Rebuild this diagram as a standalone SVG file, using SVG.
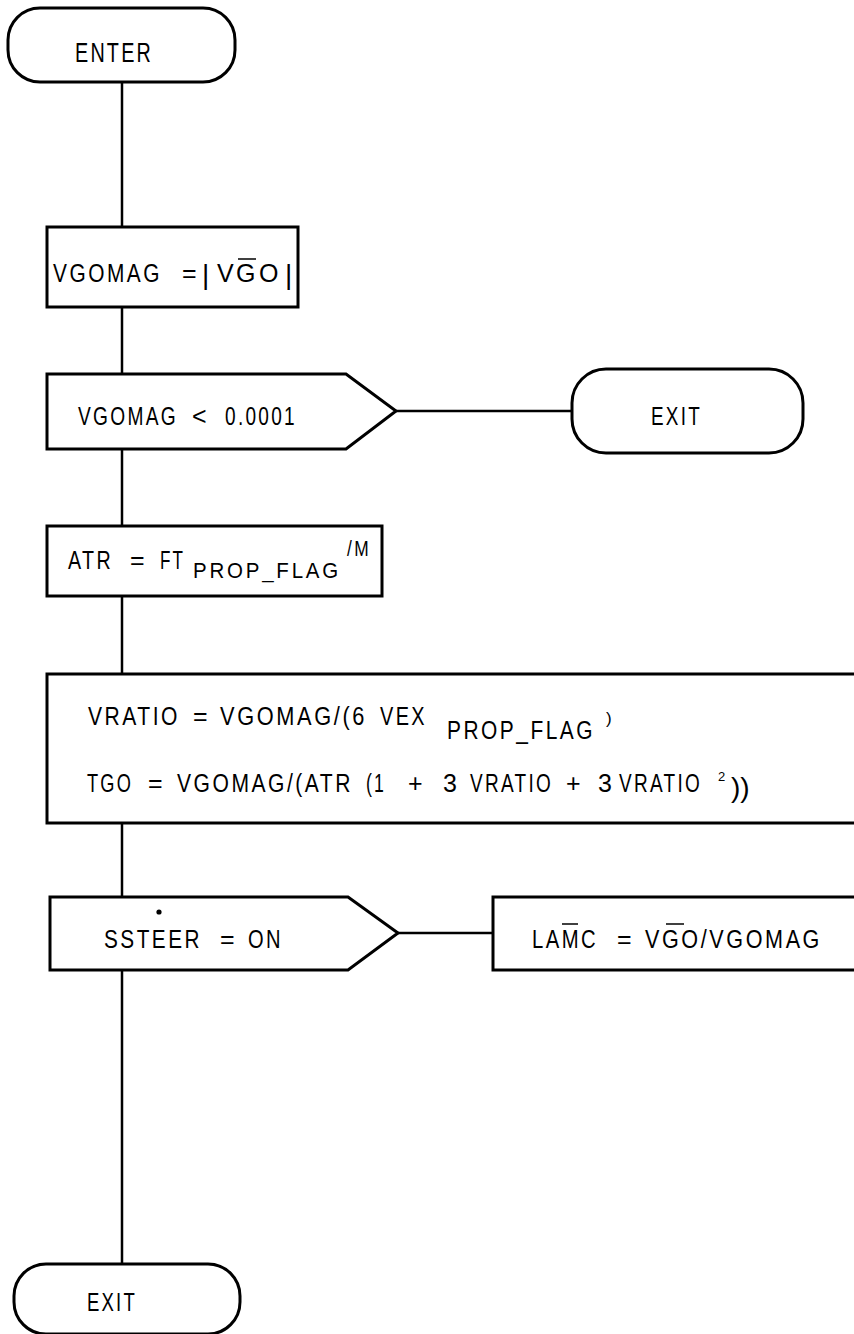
<svg xmlns="http://www.w3.org/2000/svg" width="854" height="1334" viewBox="0 0 854 1334">
<style>
.shape{fill:#fff;stroke:#000;stroke-width:3}
.conn line{stroke:#000;stroke-width:2.5}
text{font-family:"Liberation Sans",Arial,sans-serif;fill:#000;font-size:25px;letter-spacing:3px}
.lg{font-size:27px}
.sub{font-size:22px}
.sup{font-size:13px;letter-spacing:0}
.par{font-size:17px;letter-spacing:0}
.big{font-size:28px;letter-spacing:0}
.bar{stroke:#000;stroke-width:1.5}
</style>
<rect width="854" height="1334" fill="#fff"/>
<g id="connectors" class="conn">
  <line x1="122" y1="82" x2="122" y2="227"/>
  <line x1="122" y1="307" x2="122" y2="374"/>
  <line x1="122" y1="449" x2="122" y2="526"/>
  <line x1="122" y1="596" x2="122" y2="674"/>
  <line x1="122" y1="823" x2="122" y2="897"/>
  <line x1="122" y1="970" x2="122" y2="1264"/>
  <line x1="396" y1="411" x2="572" y2="411"/>
  <line x1="398" y1="933" x2="493" y2="933"/>
</g>
<g id="enter">
  <rect class="shape" x="8" y="8" width="227" height="74" rx="32" ry="32"/>
  <text class="lg" x="75" y="62" textLength="78" lengthAdjust="spacingAndGlyphs">ENTER</text>
</g>
<g id="vgomag">
  <rect class="shape" x="47" y="227" width="251" height="80"/>
  <text x="53" y="282" textLength="109" lengthAdjust="spacingAndGlyphs">VGOMAG</text>
  <text x="182" y="282">=</text>
  <text class="big" x="202" y="284">|</text>
  <text x="217" y="282">V</text>
  <text x="236" y="282">G</text>
  <text x="259" y="282">O</text>
  <text class="big" x="285" y="284">|</text>
  <line class="bar" x1="238" y1="259" x2="256" y2="259"/>
</g>
<g id="check-vgomag">
  <polygon class="shape" points="47,374 346,374 396,411 346,449 47,449"/>
  <text x="78" y="425" textLength="100" lengthAdjust="spacingAndGlyphs">VGOMAG</text>
  <text x="192" y="425">&lt;</text>
  <text x="225" y="425" textLength="72" lengthAdjust="spacingAndGlyphs">0.0001</text>
</g>
<g id="exit-1">
  <rect class="shape" x="572" y="369" width="231" height="84" rx="34" ry="34"/>
  <text x="651" y="425" textLength="51" lengthAdjust="spacingAndGlyphs">EXIT</text>
</g>
<g id="atr">
  <rect class="shape" x="47" y="526" width="335" height="70"/>
  <text x="68" y="569" textLength="45" lengthAdjust="spacingAndGlyphs">ATR</text>
  <text x="130" y="569">=</text>
  <text x="160" y="569" textLength="25" lengthAdjust="spacingAndGlyphs">FT</text>
  <text class="sub" x="193" y="578" textLength="148" lengthAdjust="spacingAndGlyphs">PROP_FLAG</text>
  <text class="sub" x="347" y="556" textLength="24" lengthAdjust="spacingAndGlyphs">/M</text>
</g>
<g id="tgo">
  <rect class="shape" x="47" y="674" width="830" height="149"/>
  <text x="88" y="725" textLength="92" lengthAdjust="spacingAndGlyphs">VRATIO</text>
  <text x="193" y="725">=</text>
  <text x="220" y="725" textLength="147" lengthAdjust="spacingAndGlyphs">VGOMAG/(6</text>
  <text x="380" y="725" textLength="47" lengthAdjust="spacingAndGlyphs">VEX</text>
  <text x="447" y="739" textLength="148" lengthAdjust="spacingAndGlyphs">PROP_FLAG</text>
  <text class="par" x="606" y="724">)</text>
  <text x="87" y="792" textLength="46" lengthAdjust="spacingAndGlyphs">TGO</text>
  <text x="148" y="792">=</text>
  <text x="177" y="792" textLength="176" lengthAdjust="spacingAndGlyphs">VGOMAG/(ATR</text>
  <text x="366" y="792" textLength="20" lengthAdjust="spacingAndGlyphs">(1</text>
  <text x="408" y="792">+</text>
  <text x="443" y="792">3</text>
  <text x="470" y="792" textLength="83" lengthAdjust="spacingAndGlyphs">VRATIO</text>
  <text x="566" y="792">+</text>
  <text x="598" y="792">3</text>
  <text x="619" y="792" textLength="83" lengthAdjust="spacingAndGlyphs">VRATIO</text>
  <text class="sup" x="718" y="781">2</text>
  <text class="big" x="731" y="797">))</text>
</g>
<g id="ssteer-check">
  <polygon class="shape" points="50,897 348,897 398,933 348,970 50,970"/>
  <circle cx="159" cy="912" r="2.6" fill="#000"/>
  <text x="104" y="948" textLength="98" lengthAdjust="spacingAndGlyphs">SSTEER</text>
  <text x="220" y="948">=</text>
  <text x="248" y="948" textLength="35" lengthAdjust="spacingAndGlyphs">ON</text>
</g>
<g id="lamc">
  <rect class="shape" x="493" y="897" width="380" height="73"/>
  <text x="532" y="948" textLength="66" lengthAdjust="spacingAndGlyphs">LAMC</text>
  <text x="617" y="948">=</text>
  <text x="645" y="948" textLength="177" lengthAdjust="spacingAndGlyphs">VGO/VGOMAG</text>
  <line class="bar" x1="562" y1="924" x2="578" y2="924"/>
  <line class="bar" x1="666" y1="924" x2="684" y2="924"/>
</g>
<g id="exit-2">
  <rect class="shape" x="14" y="1264" width="226" height="70" rx="32" ry="32"/>
  <text x="87" y="1311" textLength="50" lengthAdjust="spacingAndGlyphs">EXIT</text>
</g>
</svg>
